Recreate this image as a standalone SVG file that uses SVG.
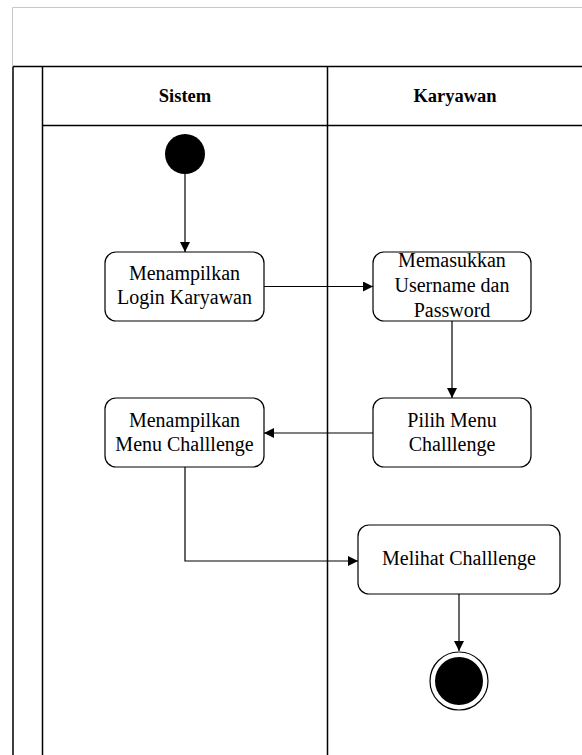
<svg xmlns="http://www.w3.org/2000/svg" width="582" height="755" viewBox="0 0 582 755">
  <style>
    .lane { fill: none; stroke: #000; stroke-width: 1.5; }
    .act rect { fill: #fff; stroke: #000; stroke-width: 1.2; }
    text { fill: #000; text-anchor: middle; }
    .edge { fill: none; stroke: #000; stroke-width: 1.2; marker-end: url(#arrow); }
  </style>
  <defs>
    <marker id="arrow" viewBox="0 0 10 10" refX="10" refY="5" markerWidth="10" markerHeight="10" markerUnits="userSpaceOnUse" orient="auto">
      <path d="M0,0 L10,5 L0,10 Z" fill="#000"/>
    </marker>
  </defs>
  <rect width="582" height="755" fill="#fff"/>

  <!-- pool frame -->
  <g id="pool" font-family="'Liberation Serif', 'Times New Roman', 'DejaVu Serif', serif" font-size="18.5" font-weight="bold">
    <path d="M12.5,66 V7.5 H582" fill="none" stroke="#c8c8c8" stroke-width="1"/>
    <path class="lane" d="M13,66.5 H582 M13,66.5 V755 M42.5,66.5 V755 M327.5,66.5 V755 M42.5,125.5 H582"/>
    <text x="185" y="101.5">Sistem</text>
    <text x="455" y="101.5">Karyawan</text>
  </g>

  <!-- connectors -->
  <g id="connectors">
    <path class="edge" d="M185,174 V252"/>
    <path class="edge" d="M264,286.5 H373"/>
    <path class="edge" d="M452,321 V398"/>
    <path class="edge" d="M373,433 H264"/>
    <path class="edge" d="M185,467 V561 H358"/>
    <path class="edge" d="M459,594 V651"/>
  </g>

  <g id="start">
    <circle cx="185" cy="154" r="20" fill="#000"/>
  </g>

  <g font-family="'Liberation Serif', 'Times New Roman', 'DejaVu Serif', serif" font-size="20">
    <g id="login" class="act">
      <rect x="105" y="252" width="159" height="69" rx="11"/>
      <text x="184.5" y="280">Menampilkan</text>
      <text x="184.5" y="304">Login Karyawan</text>
    </g>

    <g id="input" class="act">
      <rect x="373" y="252" width="158" height="69" rx="11"/>
      <text x="452" y="267">Memasukkan</text>
      <text x="452" y="292">Username dan</text>
      <text x="452" y="317">Password</text>
    </g>

    <g id="pilih" class="act">
      <rect x="373" y="398" width="158" height="69" rx="11"/>
      <text x="452" y="427">Pilih Menu</text>
      <text x="452" y="451">Challlenge</text>
    </g>

    <g id="menu" class="act">
      <rect x="105" y="398" width="159" height="69" rx="11"/>
      <text x="184.5" y="427">Menampilkan</text>
      <text x="184.5" y="451">Menu Challlenge</text>
    </g>

    <g id="melihat" class="act">
      <rect x="358" y="525" width="202" height="69" rx="11"/>
      <text x="459" y="565">Melihat Challlenge</text>
    </g>
  </g>

  <g id="end">
    <circle cx="459" cy="681" r="29" fill="#fff" stroke="#000" stroke-width="1.2"/>
    <circle cx="459" cy="681" r="24" fill="#000"/>
  </g>
</svg>
